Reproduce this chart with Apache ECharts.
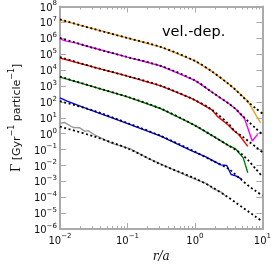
<!DOCTYPE html>
<html><head><meta charset="utf-8">
<script src="https://cdn.jsdelivr.net/npm/echarts@6/dist/echarts.min.js"></script>
<style>html,body{margin:0;padding:0;background:#fff}#c{width:274px;height:268px}</style>
</head><body><div id="c"></div>
<script>
// r/a , Gamma pairs
const orangeSolid = [[0.01,1.45e7],[0.0316,3.9e6],[0.1,1.05e6],[0.316,2.8e5],[1,3.8e4],[1.78,8.3e3],[3.16,1350],[3.98,590],[5.01,240],[6.07,112],[7.94,16],[9.4,4.7]];
const orangeModel = [[0.01,1.55e7],[0.0316,3.9e6],[0.1,1.05e6],[0.316,2.8e5],[1,3.8e4],[1.78,8.3e3],[3.16,1350],[3.98,590],[5.01,224],[6.31,91],[7.94,40],[10,18.6]];
const magentaSolid = [[0.01,9.1e5],[0.012,6.9e5],[0.0169,5.2e5],[0.0316,2.45e5],[0.1,6.6e4],[0.316,1.8e4],[1,2240],[1.78,417],[3.16,79],[3.98,37],[4.93,14],[5.41,9.3],[6.07,2.3],[7.06,0.35],[8.49,0.9]];
const magentaModel = [[0.01,1.05e6],[0.0316,2.45e5],[0.1,6.6e4],[0.316,1.8e4],[1,2240],[1.78,417],[3.16,79],[3.98,37],[5.01,14],[6.31,5.4],[7.94,2.2],[10,0.89]];
const redSolid = [[0.01,5.75e4],[0.0316,1.55e4],[0.1,4200],[0.311,1020],[0.857,178],[1,129],[1.78,32],[2.15,12.3],[3.11,3.55],[3.63,1.78],[4.46,0.89],[6.07,0.16]];
const redModel = [[0.01,6.6e4],[0.0316,1.55e4],[0.1,4200],[0.316,1020],[1,129],[1.78,32],[3.16,4.1],[3.98,1.35],[5.01,0.68],[6.31,0.32],[7.94,0.15],[10,0.069]];
const greenSolid = [[0.01,3600],[0.0316,890],[0.1,209],[0.316,37],[0.575,10.7],[1,3.3],[1.78,0.78],[3.16,0.18],[4.02,0.11],[5.2,0.03],[6.07,0.0035]];
const greenModel = [[0.01,3900],[0.0316,890],[0.1,209],[0.316,37],[1,3.3],[1.78,0.78],[3.16,0.18],[3.98,0.098],[5.01,0.049],[6.31,0.019],[7.94,0.0062],[10,0.002]];
const blueSolid = [[0.01,178],[0.0128,112],[0.0261,35],[0.073,7.1],[0.203,1.41],[0.311,0.71],[0.865,0.089],[1.45,0.035],[2.42,0.011],[2.96,0.01],[3.44,0.0027],[4.02,0.0022],[4.93,0.0014]];
const blueModel = [[0.01,112],[0.0316,28],[0.1,4.7],[0.316,0.71],[1,0.074],[1.78,0.021],[3.16,0.0062],[3.98,0.0027],[5.01,0.00115],[6.31,0.0005],[7.94,0.00025],[10,0.000126]];
const graySolid = [[0.01,4.5],[0.0116,5.1],[0.0157,2.45],[0.0196,2.35],[0.0236,1.41],[0.0261,1.55],[0.0321,0.89],[0.0593,0.245],[0.11,0.112],[0.203,0.028],[0.374,0.0089],[0.865,0.00178],[1.52,0.00069],[1.87,0.00035],[2.42,0.00022],[2.84,0.000126]];
const grayModel = [[0.01,2.8],[0.0316,0.68],[0.1,0.12],[0.316,0.0115],[1,0.00155],[1.78,0.00044],[3.16,0.000095],[3.98,4.8e-5],[5.01,2.4e-5],[6.31,1.2e-5],[7.94,6e-6],[10,3e-6]];
const xMajor = [0.01,0.1,1,10];
const xMinor = [0.02,0.03,0.04,0.05,0.06,0.07,0.08,0.09,0.2,0.3,0.4,0.5,0.6,0.7,0.8,0.9,2,3,4,5,6,7,8,9];
const yMajor = [1e-6,1e-5,1e-4,1e-3,1e-2,1e-1,1,10,100,1e3,1e4,1e5,1e6,1e7,1e8];

const frame = '#aaaaaa';
function expLabel(v){
  const e = Math.round(Math.log10(v));
  return '{b|10}{s|' + (e < 0 ? '\u2212' + (-e) : e) + '}';
}
const rich = {
  b:{fontSize:10,fontFamily:'DejaVu Sans',color:'#111',verticalAlign:'bottom',lineHeight:13},
  s:{fontSize:7,fontFamily:'DejaVu Sans',color:'#111',verticalAlign:'top',lineHeight:13}
};
function xAx(pos, ticks, len, line, labels){
  return {type:'log',min:0.01,max:10,position:pos,
    axisLine:{show:line,lineStyle:{color:frame,width:2}},
    axisTick:{show:true,inside:true,length:len,customValues:ticks,lineStyle:{color:frame,width:1}},
    axisLabel:labels?{show:true,customValues:xMajor,formatter:expLabel,rich:rich,margin:4}:{show:false},
    splitLine:{show:false},minorTick:{show:false}};
}
const chart = echarts.init(document.getElementById('c'));
function solid(d,c){return {type:'line',data:d,showSymbol:false,symbol:'none',lineStyle:{color:c,width:1.4},z:2,silent:true};}
function model(d){return {type:'line',data:d,showSymbol:false,symbol:'none',smooth:0.3,lineStyle:{color:'#000',width:1.8,type:[2,2.5]},z:3,silent:true};}
const xa = xAx('bottom',xMajor,6,true,true);
xa.name = 'r/a'; xa.nameLocation='middle'; xa.nameGap=20;
xa.nameTextStyle={fontFamily:'DejaVu Serif',fontStyle:'italic',fontSize:12,color:'#111'};
chart.setOption({
  animation:false,
  backgroundColor:'#fff',
  title:{text:'vel.-dep.',left:157,top:20,textStyle:{fontSize:14.5,fontWeight:'normal',color:'#000',fontFamily:'DejaVu Sans'}},
  grid:{left:38,right:11,top:6,bottom:29},
  xAxis:[xa, xAx('bottom',xMinor,3,false,false), xAx('top',xMajor,6,true,false), xAx('top',xMinor,3,false,false)],
  yAxis:[
    {type:'log',min:1e-6,max:1e8,position:'left',
     axisLine:{show:true,lineStyle:{color:frame,width:2}},
     axisTick:{show:true,inside:true,length:6,customValues:yMajor,lineStyle:{color:frame,width:1}},
     axisLabel:{show:true,customValues:yMajor,formatter:expLabel,rich:rich,margin:3},
     splitLine:{show:false},
     name:'{g|\u0393} {a|[Gyr}{s|\u22121}{a| particle}{s|\u22121}{a|]}',
     nameLocation:'middle',nameGap:26,nameRotate:90,
     nameTextStyle:{rich:{
       g:{fontFamily:'DejaVu Serif',fontSize:12,color:'#111',verticalAlign:'bottom',lineHeight:15},
       a:{fontFamily:'DejaVu Sans',fontSize:11,color:'#111',verticalAlign:'bottom',lineHeight:15},
       s:{fontFamily:'DejaVu Sans',fontSize:8,color:'#111',verticalAlign:'top',lineHeight:15}}}},
    {type:'log',min:1e-6,max:1e8,position:'right',
     axisLine:{show:true,lineStyle:{color:frame,width:2}},
     axisTick:{show:true,inside:true,length:6,customValues:yMajor,lineStyle:{color:frame,width:1}},
     axisLabel:{show:false},splitLine:{show:false}}
  ],
  series:[
    solid(orangeSolid,'#f0a020'), solid(magentaSolid,'#ff00ff'), solid(redSolid,'#ff0000'),
    solid(greenSolid,'#008000'), solid(blueSolid,'#0000ff'), solid(graySolid,'#999999'),
    model(orangeModel), model(magentaModel), model(redModel),
    model(greenModel), model(blueModel), model(grayModel)
  ]
});
</script></body></html>
